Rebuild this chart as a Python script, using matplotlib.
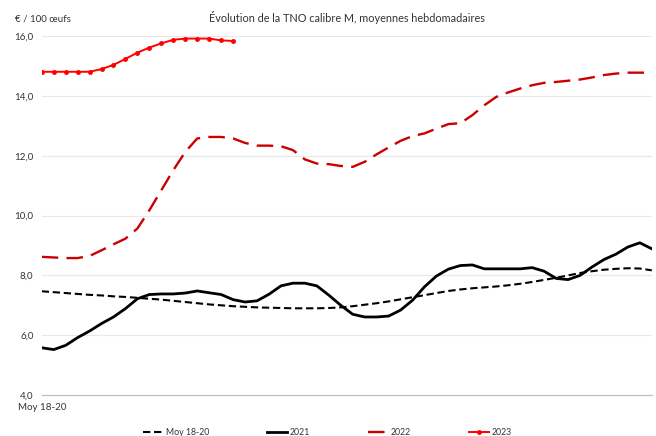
import matplotlib
matplotlib.use("Agg")
import matplotlib.pyplot as plt

plt.rcParams['font.family'] = ['Lato', 'DejaVu Sans']

# Weekly values, 52 weeks (EUR / 100 eggs)
moy_18_20 = [7.47, 7.44, 7.41, 7.38, 7.35, 7.33, 7.30, 7.28, 7.25, 7.22,
             7.19, 7.15, 7.11, 7.07, 7.03, 7.00, 6.97, 6.95, 6.93, 6.92,
             6.91, 6.90, 6.90, 6.90, 6.91, 6.93, 6.97, 7.02, 7.07, 7.13,
             7.20, 7.27, 7.34, 7.41, 7.48, 7.53, 7.57, 7.60, 7.63, 7.67,
             7.72, 7.78, 7.85, 7.92, 8.00, 8.08, 8.14, 8.19, 8.22, 8.24,
             8.23, 8.17]
y2021 = [5.58, 5.52, 5.66, 5.92, 6.14, 6.39, 6.61, 6.89, 7.22, 7.36,
         7.38, 7.38, 7.41, 7.48, 7.42, 7.36, 7.19, 7.11, 7.15, 7.37,
         7.65, 7.74, 7.74, 7.65, 7.34, 7.00, 6.70, 6.61, 6.61, 6.64,
         6.84, 7.17, 7.62, 7.98, 8.21, 8.33, 8.35, 8.22, 8.22, 8.22,
         8.22, 8.26, 8.14, 7.90, 7.86, 8.00, 8.28, 8.53, 8.71, 8.95,
         9.09, 8.89]
y2022 = [8.62, 8.60, 8.58, 8.58, 8.65, 8.84, 9.04, 9.23, 9.57, 10.18,
         10.85, 11.52, 12.13, 12.58, 12.63, 12.63, 12.58, 12.43, 12.34, 12.34,
         12.32, 12.19, 11.88, 11.74, 11.72, 11.66, 11.63, 11.80, 12.05, 12.28,
         12.50, 12.66, 12.75, 12.91, 13.06, 13.09, 13.36, 13.69, 13.97, 14.12,
         14.25, 14.36, 14.44, 14.47, 14.51, 14.55, 14.62, 14.70, 14.75, 14.78,
         14.78, 14.78]
y2023 = [14.81, 14.81, 14.81, 14.81, 14.81, 14.90, 15.04, 15.24, 15.45, 15.62,
         15.76, 15.88, 15.92, 15.92, 15.92, 15.86, 15.84]

yticks = [4, 6, 8, 10, 12, 14, 16]
ytick_labels = ["4,0", "6,0", "8,0", "10,0", "12,0", "14,0", "16,0"]

fig = plt.figure(figsize=(6.56, 4.36), dpi=100)
ax = fig.add_axes([0.0636, 0.094, 0.930, 0.823])

txt = "#333333"

ax.plot(range(len(moy_18_20)), moy_18_20, color="black", lw=1.5,
        dashes=(3.5, 1.8), label="Moy 18-20")
ax.plot(range(len(y2021)), y2021, color="black", lw=2.0, label="2021")
ax.plot(range(len(y2022)), y2022, color="#cc0000", lw=1.7,
        dashes=(7, 3.5), label="2022")
ax.plot(range(len(y2023)), y2023, color="#ff0000", lw=1.4, marker="o",
        ms=2.5, label="2023")

ax.set_xlim(0, 51)
ax.set_ylim(4, 16)
ax.set_yticks(yticks)
ax.set_yticklabels(ytick_labels)
ax.set_xticks([0])
ax.set_xticklabels(["Moy 18-20"])
ax.tick_params(axis="both", length=0, labelsize=7, colors=txt)
ax.tick_params(axis="y", pad=6)
ax.tick_params(axis="x", pad=6)

ax.grid(axis="y", color="#e8e8e8", lw=0.8)
ax.set_axisbelow(True)
for s in ["top", "right", "left"]:
    ax.spines[s].set_visible(False)
ax.spines["bottom"].set_color("#bfbfbf")
ax.spines["bottom"].set_linewidth(0.9)

fig.text(346.5 / 656, 1 - 17 / 436,
         "Évolution de la TNO calibre M, moyennes hebdomadaires",
         ha="center", va="center", fontsize=7.8, color=txt)
fig.text(15 / 656, 1 - 19 / 436, "€ / 100 œufs", ha="left", va="center",
         fontsize=7, color=txt)

fig.legend(loc="lower center", bbox_to_anchor=(327.5 / 656, -0.014), ncol=4,
           frameon=False, fontsize=6.3, handlelength=2.3, handletextpad=0.3,
           columnspacing=6.6, borderpad=0.1, labelcolor=txt)

fig.savefig("out.png", dpi=100)
